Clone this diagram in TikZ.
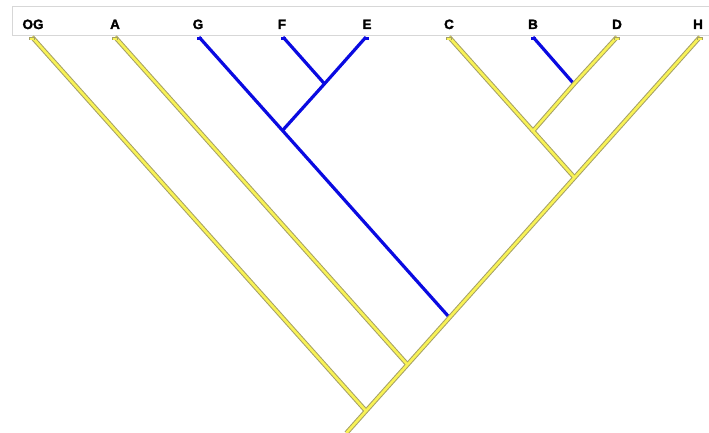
\documentclass[tikz,border=0pt]{standalone}
\usepackage{fontspec}
\setmainfont{Liberation Sans}
\newfontfamily\heavyfont[BoldFeatures={FakeBold=1.8}]{Liberation Sans}
\usetikzlibrary{calc}
\definecolor{tblue}{RGB}{10,10,225}
\definecolor{yedge}{RGB}{165,160,100}
\definecolor{yfillc}{RGB}{248,242,85}
\definecolor{hdr}{RGB}{215,215,215}
\begin{document}
\begin{tikzpicture}[x=1pt,y=-1pt,
  lab/.style={font=\heavyfont\bfseries\fontsize{13.5}{13.5}\selectfont, anchor=base, inner sep=0pt},
  blueedge/.style={draw=tblue, line width=3.2pt, line cap=butt},
  yout/.style={draw=yedge, line width=4.6pt, line cap=butt},
  yfill/.style={draw=yfillc, line width=2.6pt, line cap=butt},
  header/.style={draw=hdr, line width=0.8pt}]
\useasboundingbox (0,0) rectangle (709,433);
% header band
\draw[header] (712,6) -- (12,6) -- (12,35) -- (712,35);
% tips and labels
\foreach \n/\x in {OG/32,A/115,G/199,F/283,E/366,C/449,B/533,D/617,H/700}{
  \coordinate (\n) at (\x,37);
}
\node[lab] (lOG) at (33,29) {OG};
\node[lab] (lA) at (115,29) {A};
\node[lab] (lG) at (198,29) {G};
\node[lab] (lF) at (282,29) {F};
\node[lab] (lE) at (367,29) {E};
\node[lab] (lC) at (449,29) {C};
\node[lab] (lB) at (533,29) {B};
\node[lab] (lD) at (617,29) {D};
\node[lab] (lH) at (698,29) {H};
% internal nodes
\coordinate (n1) at (324.5,83.8);
\coordinate (n2) at (282.5,130.5);
\coordinate (n3) at (574,84);
\coordinate (n4) at (533,131);
\coordinate (n5) at (574.5,177.6);
\coordinate (n6) at (449.5,317.6);
\coordinate (n7) at (407.5,364.6);
\coordinate (n8) at (366,411);
\coordinate (root) at (346.4,433);
% blue branches
\draw[blueedge] (G) -- (n2) -- (n6);
\draw[blueedge] (F) -- (n1);
\draw[blueedge] (E) -- (n1) -- (n2);
\draw[blueedge] (B) -- (n3);
% blue tip caps
\foreach \n in {G,F,E,B}{ \fill[tblue] ($(\n)+(-2.5,0)$) rectangle ($(\n)+(2.5,3)$); }
% yellow branches: outline then fill
\foreach \s in {yout,yfill}{
  \draw[\s] (OG) -- (n8);
  \draw[\s] (A) -- (n7);
  \draw[\s] (C) -- (n4);
  \draw[\s] (D) -- (n3) -- (n4) -- (n5);
  \draw[\s] (H) -- (n5) -- (n6) -- (n7) -- (n8) -- (root);
}
% yellow tip caps
\foreach \n in {OG,A,C,D,H}{
  \fill[yedge] ($(\n)+(-2.8,0)$) rectangle ($(\n)+(2.8,3.5)$);
  \fill[yfillc] ($(\n)+(-1.7,1)$) rectangle ($(\n)+(1.7,3.5)$);
}
\end{tikzpicture}
\end{document}
